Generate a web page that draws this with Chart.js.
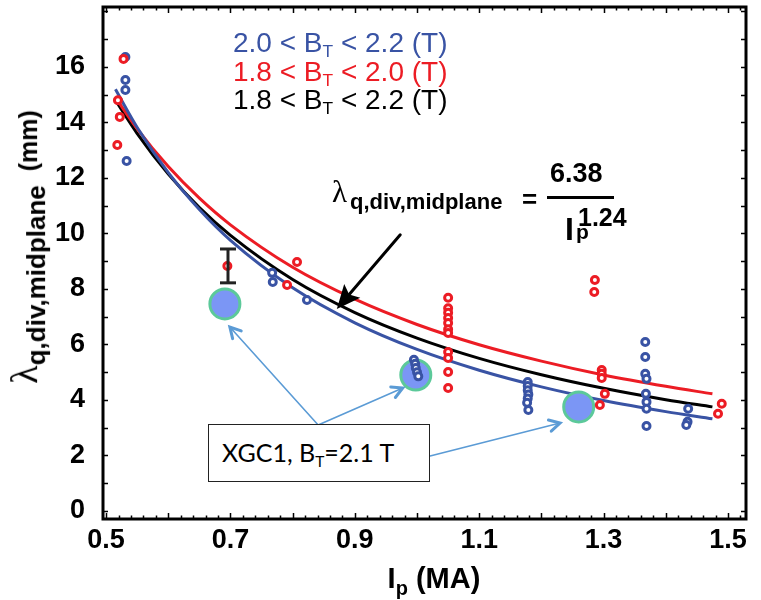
<!DOCTYPE html>
<html>
<head>
<meta charset="utf-8">
<script src="https://cdn.jsdelivr.net/npm/chart.js@4.4.1/dist/chart.umd.min.js"></script>
<style>
body { margin: 0; background: #fff; }
#wrap { position: relative; width: 761px; height: 600px; }
.t { position: absolute; white-space: nowrap; line-height: 1; font-family: 'Liberation Sans', Arial, sans-serif; }
.b { font-weight: bold; }
.leg { font-size: 28px; left: 233px; }
.leg sub { font-size: 62%; vertical-align: -0.3em; line-height: 0; }
.lam { font-family: 'Liberation Serif', 'DejaVu Serif', serif; font-weight: normal; }
#xgc { left: 208px; top: 424px; width: 222px; height: 58px; box-sizing: border-box; border: 1.5px solid #222; background: #fff;
       font-family: Lato, 'Open Sans', sans-serif; font-size: 25px; padding: 15px 0 0 13px; }
#xgc sub { font-size: 62%; vertical-align: -0.3em; line-height: 0; }
</style>
</head>
<body>
<div id="wrap">
  <canvas id="chart" width="761" height="600"></canvas>

  <!-- legend -->
  <div class="t leg" style="top:29px;color:#3953a4">2.0 &lt; B<sub>T</sub> &lt; 2.2 (T)</div>
  <div class="t leg" style="top:58px;color:#ec1c24">1.8 &lt; B<sub>T</sub> &lt; 2.0 (T)</div>
  <div class="t leg" style="top:86px;color:#000">1.8 &lt; B<sub>T</sub> &lt; 2.2 (T)</div>

  <!-- fit formula -->
  <div class="t lam" style="left:332px;top:176px;font-size:31px">λ</div>
  <div class="t b" style="left:350px;top:191px;font-size:22px">q,div,midplane</div>
  <div class="t b" style="left:522px;top:186px;font-size:26px">=</div>
  <div class="t b" style="left:550px;top:160px;font-size:27px">6.38</div>
  <div style="position:absolute;left:547px;top:196px;width:67px;height:2.5px;background:#000"></div>
  <div class="t b" style="left:565px;top:213px;font-size:32px">I</div>
  <div class="t b" style="left:576px;top:221px;font-size:21px">p</div>
  <div class="t b" style="left:578px;top:205px;font-size:25px">1.24</div>

  <!-- axis titles -->
  <div class="t b" style="left:27px;top:247px;font-size:25px;transform:translate(-50%,-50%) rotate(-90deg)"><span class="lam" style="font-size:38px">λ</span><sub style="font-size:26px;vertical-align:-0.3em">q,div,midplane</sub>&nbsp;&nbsp;(mm)</div>
  <div class="t b" style="left:434px;top:564px;font-size:29px;transform:translateX(-50%)">I<sub style="font-size:20px;vertical-align:-0.35em">p</sub> (MA)</div>

  <div class="t" id="xgc"><span>XGC1, B<sub>T</sub>=2.1 T</span></div>
</div>

<script>
// fitted curves
const fitX     = [0.515, 0.55, 0.6, 0.65, 0.7, 0.8, 0.9, 1.0, 1.1, 1.2, 1.3, 1.4, 1.475];
const fitBlue  = [15.2, 13.82, 12.19, 10.86, 9.75, 8.04, 6.78, 5.82, 5.07, 4.47, 3.98, 3.58, 3.32];
const fitRed   = [14.9, 13.77, 12.41, 11.27, 10.31, 8.78, 7.63, 6.72, 5.99, 5.40, 4.90, 4.49, 4.22];
const fitBlack = [14.8, 13.6, 12.14, 10.93, 9.93, 8.34, 7.15, 6.23, 5.50, 4.91, 4.42, 4.01, 3.75];

// measurements 2.0 < BT < 2.2
const blueX = [0.531, 0.531, 0.531, 0.533, 0.767, 0.768, 0.823,
               0.995, 0.997, 0.998, 1.0, 1.002,
               1.178, 1.178, 1.178, 1.179, 1.178, 1.177, 1.179,
               1.367, 1.367, 1.367, 1.369, 1.368, 1.369, 1.369, 1.369,
               1.436, 1.435, 1.433];
const blueY = [16.36, 15.53, 15.17, 12.61, 8.58, 8.25, 7.6,
               5.45, 5.3, 5.15, 5.0, 4.85,
               4.65, 4.5, 4.35, 4.2, 4.05, 3.9, 3.64,
               6.09, 5.55, 4.94, 4.76, 4.22, 3.93, 3.68, 3.06,
               3.68, 3.21, 3.1];

// measurements 1.8 < BT < 2.0
const redX = [0.528, 0.519, 0.522, 0.518, 0.695, 0.807, 0.791,
              1.05, 1.05, 1.05, 1.05, 1.05, 1.05, 1.05, 1.05, 1.05, 1.05, 1.05,
              1.286, 1.285, 1.297, 1.297, 1.297, 1.302, 1.294, 1.49, 1.484];
const redY = [16.29, 14.8, 14.2, 13.19, 8.83, 8.97, 8.14,
              7.68, 7.3, 7.14, 6.95, 6.77, 6.55, 6.41, 5.73, 5.51, 5.01, 4.43,
              8.32, 7.89, 5.08, 4.94, 4.79, 4.22, 3.82, 3.86, 3.5];

// XGC1 simulation points and error bar
const xgcX = [0.691, 0.998, 1.26];
const xgcY = [7.46, 4.9, 3.75];
const errX = 0.696;
const errLow = 8.22, errHigh = 9.44;

// annotation arrows (data coords)
const blueArrowFrom = [[0.841, 3.10], [0.841, 3.10], [1.021, 1.98]];
const blueArrowTo   = [[0.699, 6.63], [0.977, 4.43], [1.230, 3.17]];
const fitArrowFrom = [0.973, 9.95];
const fitArrowTo   = [0.871, 7.28];

const xTickLabels = ['0.5', '0.7', '0.9', '1.1', '1.3', '1.5'];
const yTickLabels = ['0', '2', '4', '6', '8', '10', '12', '14', '16'];

const BLUE = '#3953a4', RED = '#ec1c24';

function pts(xs, ys) { return xs.map((x, i) => ({x: x, y: ys[i]})); }

const framePlugin = {
  id: 'frame',
  afterDatasetsDraw(chart) {
    const ctx = chart.ctx, a = chart.chartArea;
    const x = chart.scales.x, y = chart.scales.y;
    ctx.save();
    ctx.strokeStyle = '#000';
    ctx.lineWidth = 1.5;
    ctx.beginPath();
    for (let i = 0; i <= 51; i++) {
      const px = Math.round(x.getPixelForValue(0.5 + i * 0.02)) + 0.5;
      const len = i % 5 === 0 ? 6 : 3.5;
      ctx.moveTo(px, a.bottom); ctx.lineTo(px, a.bottom - len);
      ctx.moveTo(px, a.top); ctx.lineTo(px, a.top + len);
    }
    for (let v = 0; v <= 18; v++) {
      const py = Math.round(y.getPixelForValue(v)) + 0.5;
      ctx.moveTo(a.left, py); ctx.lineTo(a.left + 5, py);
      ctx.moveTo(a.right, py); ctx.lineTo(a.right - 5, py);
    }
    ctx.stroke();
    ctx.lineWidth = 3;
    ctx.strokeRect(a.left, a.top, a.right - a.left, a.bottom - a.top);

    // arrows
    function P(p) { return [x.getPixelForValue(p[0]), y.getPixelForValue(p[1])]; }
    ctx.strokeStyle = '#5b9bd5';
    ctx.lineCap = 'round';
    blueArrowFrom.forEach((f, i) => {
      const s = P(f), e = P(blueArrowTo[i]);
      const ang = Math.atan2(e[1] - s[1], e[0] - s[0]);
      ctx.lineWidth = 1.6;
      ctx.beginPath(); ctx.moveTo(s[0], s[1]); ctx.lineTo(e[0], e[1]); ctx.stroke();
      ctx.lineWidth = 3;
      ctx.beginPath();
      ctx.moveTo(e[0] - 12 * Math.cos(ang - 0.5), e[1] - 12 * Math.sin(ang - 0.5));
      ctx.lineTo(e[0], e[1]);
      ctx.lineTo(e[0] - 12 * Math.cos(ang + 0.5), e[1] - 12 * Math.sin(ang + 0.5));
      ctx.stroke();
    });
    const s = P(fitArrowFrom), e = P(fitArrowTo);
    const ang = Math.atan2(e[1] - s[1], e[0] - s[0]);
    ctx.strokeStyle = '#000'; ctx.fillStyle = '#000'; ctx.lineWidth = 3;
    ctx.beginPath(); ctx.moveTo(s[0], s[1]);
    ctx.lineTo(e[0] - 18 * Math.cos(ang), e[1] - 18 * Math.sin(ang)); ctx.stroke();
    ctx.beginPath();
    ctx.moveTo(e[0], e[1]);
    ctx.lineTo(e[0] - 26 * Math.cos(ang - 0.42), e[1] - 26 * Math.sin(ang - 0.42));
    ctx.lineTo(e[0] - 19 * Math.cos(ang), e[1] - 19 * Math.sin(ang));
    ctx.lineTo(e[0] - 26 * Math.cos(ang + 0.42), e[1] - 26 * Math.sin(ang + 0.42));
    ctx.closePath(); ctx.fill();
    ctx.restore();
  }
};

const ring = (c) => ({ type: 'scatter', pointRadius: 3.5, pointBorderWidth: 3, borderColor: c, backgroundColor: '#fff', pointHoverRadius: 3.5 });
const curve = (c) => ({ showLine: true, pointRadius: 0, borderWidth: 3, borderColor: c, cubicInterpolationMode: 'monotone', fill: false });

new Chart(document.getElementById('chart'), {
  type: 'scatter',
  data: {
    datasets: [
      Object.assign({ label: 'err', data: [{x: errX, y: errLow}, {x: errX, y: errHigh}], showLine: true,
        borderColor: '#222', borderWidth: 3, pointStyle: 'line', pointRadius: 8, pointBorderWidth: 3, order: 0 }),
      Object.assign(ring(RED), { label: '1.8 < BT < 2.0', data: pts(redX, redY), order: 1 }),
      Object.assign(ring(BLUE), { label: '2.0 < BT < 2.2', data: pts(blueX, blueY), order: 1 }),
      { label: 'XGC1', data: pts(xgcX, xgcY), pointRadius: 15, backgroundColor: '#7b96f5', borderColor: '#5cc99a', pointBorderWidth: 3, order: 2 },
      Object.assign(curve(BLUE), { label: 'fit blue', data: pts(fitX, fitBlue), order: 3 }),
      Object.assign(curve(RED), { label: 'fit red', data: pts(fitX, fitRed), order: 3 }),
      Object.assign(curve('#000'), { label: 'fit all', data: pts(fitX, fitBlack), order: 3 })
    ]
  },
  options: {
    responsive: false,
    animation: false,
    layout: { autoPadding: false, padding: { top: 7, right: 15, left: 0, bottom: 0 } },
    plugins: { legend: { display: false }, tooltip: { enabled: false } },
    scales: {
      x: {
        type: 'linear', min: 0.495, max: 1.529,
        grid: { display: false, drawTicks: false }, border: { display: false },
        afterBuildTicks: (s) => { s.ticks = xTickLabels.map(v => ({ value: parseFloat(v) })); },
        afterFit: (s) => { s.height = 81; s.paddingLeft = 0; s.paddingRight = 0; },
        ticks: { color: '#000', padding: 5, maxRotation: 0, autoSkip: false,
                 font: { family: 'Liberation Sans', size: 27, weight: 'bold' },
                 callback: (v) => Number(v).toFixed(1) }
      },
      y: {
        type: 'linear', min: -0.29, max: 18.16,
        grid: { display: false, drawTicks: false }, border: { display: false },
        afterBuildTicks: (s) => { s.ticks = yTickLabels.map(v => ({ value: parseFloat(v) })); },
        afterFit: (s) => { s.width = 103; s.paddingTop = 0; s.paddingBottom = 0; },
        ticks: { color: '#000', padding: 18,
                 font: { family: 'Liberation Sans', size: 27, weight: 'bold' } }
      }
    }
  },
  plugins: [framePlugin]
});
</script>
</body>
</html>
